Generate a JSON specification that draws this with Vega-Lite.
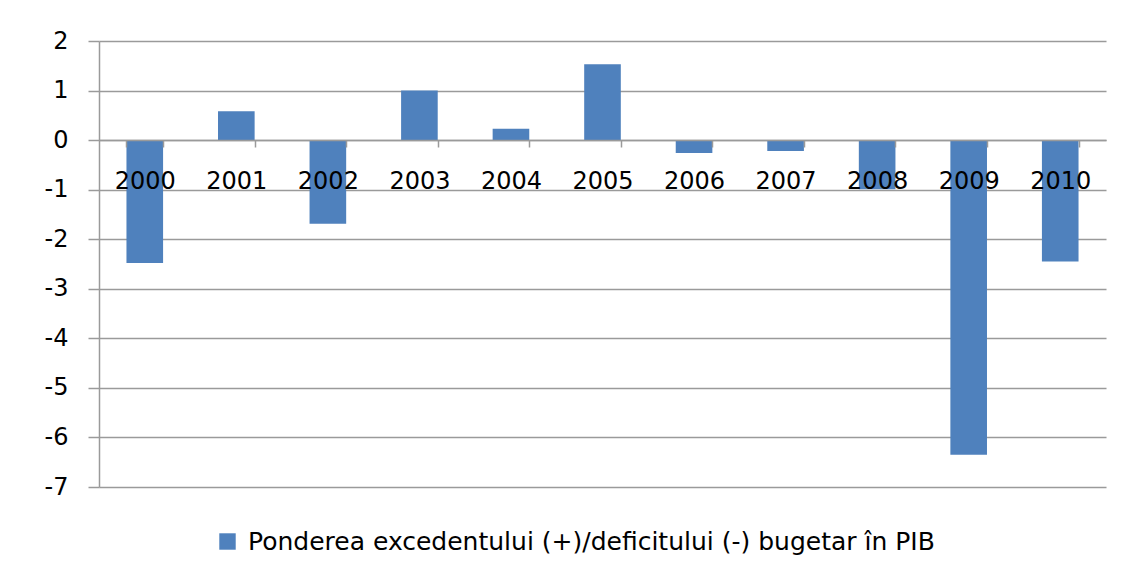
{
  "$schema": "https://vega.github.io/schema/vega-lite/v6.json",
  "width": 1007,
  "height": 446,
  "autosize": {"type": "none"},
  "padding": {"left": 99, "top": 41, "right": 22, "bottom": 85},
  "background": "white",
  "config": {
    "view": {"stroke": null},
    "font": "DejaVu Sans"
  },
  "data": {
    "values": [
      {"an": "2000", "valoare": -2.48},
      {"an": "2001", "valoare": 0.58},
      {"an": "2002", "valoare": -1.69},
      {"an": "2003", "valoare": 1.0},
      {"an": "2004", "valoare": 0.23},
      {"an": "2005", "valoare": 1.53},
      {"an": "2006", "valoare": -0.26},
      {"an": "2007", "valoare": -0.22},
      {"an": "2008", "valoare": -0.99},
      {"an": "2009", "valoare": -6.35},
      {"an": "2010", "valoare": -2.45}
    ]
  },
  "mark": {"type": "bar"},
  "encoding": {
    "x": {
      "field": "an",
      "type": "nominal",
      "sort": null,
      "scale": {"paddingInner": 0.6, "paddingOuter": 0.3},
      "axis": {
        "title": null,
        "orient": "bottom",
        "offset": -347,
        "zindex": 1,
        "labelAngle": 0,
        "labelFont": "DejaVu Sans",
        "labelFontSize": 24,
        "labelColor": "#000000",
        "labelPadding": 22,
        "tickBand": "extent",
        "tickSize": 7,
        "tickColor": "#9a9a9a",
        "tickWidth": 1.5,
        "domainColor": "#9a9a9a",
        "domainWidth": 1.5,
        "grid": false
      }
    },
    "y": {
      "field": "valoare",
      "type": "quantitative",
      "scale": {"domain": [-7, 2], "nice": false, "zero": false},
      "axis": {
        "title": null,
        "values": [-7, -6, -5, -4, -3, -2, -1, 0, 1, 2],
        "labelExpr": "replace(datum.label, '−', '-')",
        "labelFont": "DejaVu Sans",
        "labelFontSize": 24,
        "labelColor": "#000000",
        "labelPadding": 20,
        "tickSize": 11,
        "tickColor": "#9a9a9a",
        "tickWidth": 1.5,
        "domainColor": "#9a9a9a",
        "domainWidth": 1.5,
        "grid": true,
        "gridColor": "#9a9a9a",
        "gridWidth": 1.5
      }
    },
    "color": {
      "datum": "Ponderea excedentului (+)/deficitului (-) bugetar în PIB",
      "type": "nominal",
      "scale": {"range": ["#4F81BD"]},
      "legend": {
        "title": null,
        "orient": "none",
        "legendX": 116,
        "legendY": 488,
        "padding": 0,
        "symbolType": "square",
        "symbolSize": 270,
        "symbolStrokeWidth": 0,
        "labelFont": "DejaVu Sans",
        "labelFontSize": 25,
        "labelColor": "#000000",
        "labelOffset": 8,
        "labelLimit": 1000
      }
    }
  }
}
